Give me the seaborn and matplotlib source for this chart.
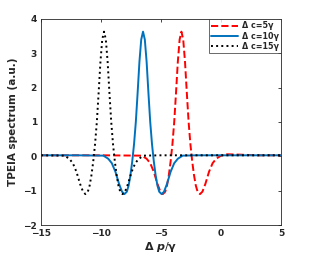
import numpy as np
import matplotlib
matplotlib.use("Agg")
import matplotlib.pyplot as plt
import seaborn as sns
import pandas as pd

# values
x_c5 = [-15, -10, -6.6, -6.2, -5.9, -5.6, -5.3, -5.05, -4.85, -4.65, -4.5, -4.35, -4.2, -4.05,
        -3.9, -3.75, -3.6, -3.45, -3.3, -3.15, -3.0, -2.85, -2.7, -2.55, -2.4, -2.25, -2.1,
        -1.95, -1.75, -1.55, -1.3, -1.0, -0.7, -0.4, 0.0, 0.5, 1.5, 3.0, 5]
y_c5 = [0.03, 0.03, 0.02, -0.07, -0.2, -0.45, -0.8, -1.03, -1.1, -1.03, -0.85, -0.55, -0.15, 0.35,
        1.0, 1.85, 2.75, 3.4, 3.63, 3.4, 2.75, 1.85, 1.0, 0.35, -0.15, -0.55, -0.85,
        -1.03, -1.1, -1.03, -0.8, -0.45, -0.2, -0.07, 0.02, 0.06, 0.05, 0.03, 0.03]

x_c10 = [-15, -12, -9.8, -9.4, -9.1, -8.8, -8.5, -8.25, -8.05, -7.85, -7.7, -7.55, -7.4, -7.25,
         -7.1, -6.95, -6.8, -6.65, -6.5, -6.35, -6.2, -6.05, -5.9, -5.75, -5.6, -5.45, -5.3,
         -5.15, -4.95, -4.75, -4.5, -4.2, -3.9, -3.6, -3.2, -2.0, 5]
y_c10 = [0.03, 0.03, 0.02, -0.07, -0.2, -0.45, -0.8, -1.03, -1.1, -1.03, -0.85, -0.55, -0.15, 0.35,
         1.0, 1.85, 2.75, 3.4, 3.63, 3.4, 2.75, 1.85, 1.0, 0.35, -0.15, -0.55, -0.85,
         -1.03, -1.1, -1.03, -0.8, -0.45, -0.2, -0.07, 0.02, 0.03, 0.03]

x_c15 = [-15, -13.05, -12.65, -12.35, -12.05, -11.75, -11.5, -11.3, -11.1, -10.95, -10.8, -10.65,
         -10.5, -10.35, -10.2, -10.05, -9.9, -9.75, -9.6, -9.45, -9.3, -9.15, -9.0, -8.85, -8.7,
         -8.55, -8.4, -8.2, -8.0, -7.75, -7.45, -7.15, -6.85, -6.45, -5.0, 5]
y_c15 = [0.03, 0.02, -0.07, -0.2, -0.45, -0.8, -1.03, -1.1, -1.03, -0.85, -0.55, -0.15,
         0.35, 1.0, 1.85, 2.75, 3.4, 3.63, 3.4, 2.75, 1.85, 1.0, 0.35, -0.15, -0.55,
         -0.85, -1.03, -1.1, -1.03, -0.8, -0.45, -0.2, -0.07, 0.02, 0.03, 0.03]

labels = ['Δ c=5γ', 'Δ c=10γ', 'Δ c=15γ']
xticks = [-15, -10, -5, 0, 5]
yticks = [-2, -1, 0, 1, 2, 3, 4]

sns.set_style("white")
plt.rcParams['font.family'] = ['DejaVu Sans']
plt.rcParams['font.weight'] = 'bold'
plt.rcParams['mathtext.default'] = 'bf'

fig = plt.figure(figsize=(3.11, 2.56), dpi=100)
ax = fig.add_axes([0.132, 0.121, 0.7715, 0.805])

sns.lineplot(x=x_c5, y=y_c5, ax=ax, color='#FF0000', linestyle='--', lw=1.4, label=labels[0])
sns.lineplot(x=x_c10, y=y_c10, ax=ax, color='#0072BD', linestyle='-', lw=1.4, label=labels[1])
sns.lineplot(x=x_c15, y=y_c15, ax=ax, color='black', linestyle=':', lw=1.4, label=labels[2])

ax.set_xlim(-15, 5)
ax.set_ylim(-2, 4)
ax.set_xticks(xticks)
ax.set_yticks(yticks)
ax.tick_params(direction='in', length=2.5, width=0.6, labelsize=6.5, top=True, right=True,
               colors='#262626', pad=3)
for s in ax.spines.values():
    s.set_color('#262626')
    s.set_linewidth(0.6)

ax.set_xlabel(r'$\Delta$ $\mathit{p}$/$\gamma$', fontsize=8, labelpad=1)
ax.set_ylabel('TPEIA spectrum (a.u.)', fontsize=7.5, fontweight='bold', labelpad=4)

leg = ax.legend(loc='upper right', fontsize=5.8, frameon=True, fancybox=False,
                borderaxespad=0, handlelength=3.4, handletextpad=0.4, labelspacing=0.15,
                borderpad=0.3)
leg.get_frame().set_edgecolor('#262626')
leg.get_frame().set_linewidth(0.6)

fig.savefig('out.png', dpi=100)
